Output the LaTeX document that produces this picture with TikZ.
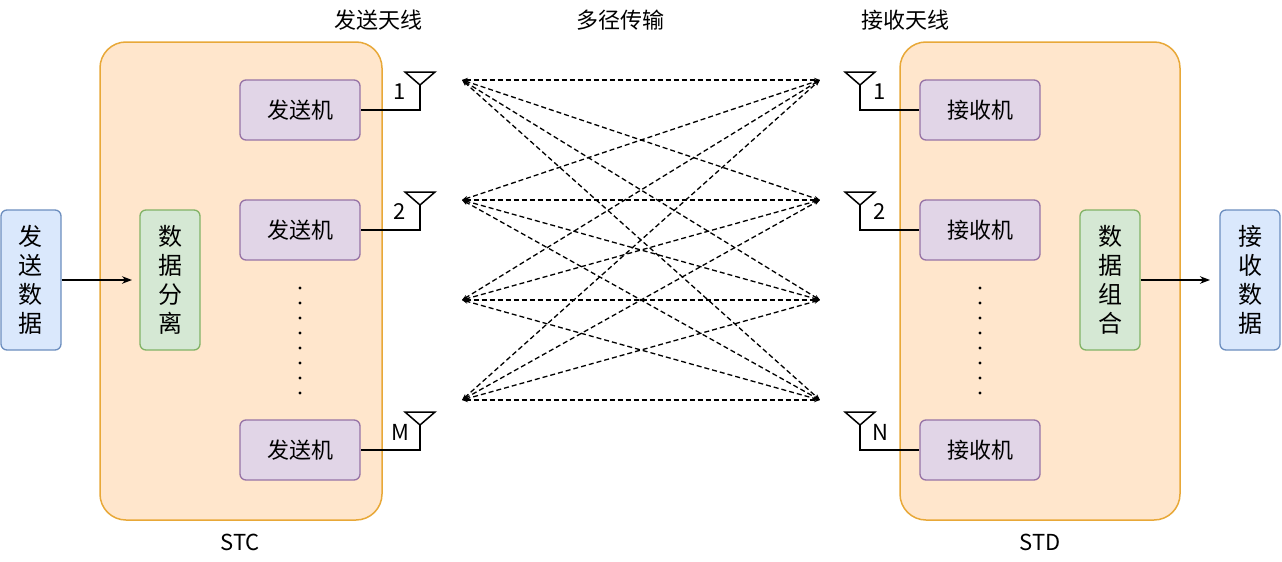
\documentclass[tikz,border=0pt]{standalone}
\usepackage{fontspec}
\setmainfont{Noto Sans CJK SC}
\usetikzlibrary{arrows.meta}
\definecolor{bF}{HTML}{DAE8FC}\definecolor{bS}{HTML}{6C8EBF}
\definecolor{gF}{HTML}{D5E8D4}\definecolor{gS}{HTML}{82B366}
\definecolor{pF}{HTML}{E1D5E7}\definecolor{pS}{HTML}{9673A6}
\definecolor{oF}{HTML}{FFE6CC}\definecolor{oS}{HTML}{E8A838}
\begin{document}
\begin{tikzpicture}[x=1pt,y=-1pt,font=\fontsize{22}{28}\selectfont,
 box/.style={draw,rounded corners=6pt,line width=1.3pt,inner sep=0},
 vbox/.style={box,minimum width=60pt,minimum height=140pt,align=center,font=\fontsize{24}{29}\selectfont},
 cont/.style={draw=oS,fill=oF,rounded corners=26pt,line width=1.5pt},
 ant/.style={line width=1.5pt},
 mp/.style={dash pattern=on 5pt off 3pt,line width=1.3pt,{Stealth[length=6pt]}-{Stealth[length=6pt]}}]
\useasboundingbox (0,0) rectangle (1282,562);
\fill[white] (0,0) rectangle (1282,562);
\draw[cont] (100,42) rectangle (382,520);
\draw[cont] (900,42) rectangle (1180,520);
\node[vbox,fill=bF,draw=bS] (in) at (31,280) {发\\送\\数\\据};
\node[vbox,fill=gF,draw=gS] (split) at (170,280) {数\\据\\分\\离};
\node[vbox,fill=gF,draw=gS] (comb) at (1110,280) {数\\据\\组\\合};
\node[vbox,fill=bF,draw=bS] (out) at (1250,280) {接\\收\\数\\据};
\draw[-{Stealth[length=10pt]},line width=1.5pt] (in) -- (132,280) coordinate (se);
\draw[-{Stealth[length=10pt]},line width=1.5pt] (comb) -- (1210,280) coordinate (oe);
\foreach \n/\y in {t1/110,t2/230,tm/450}{
 \node[box,fill=pF,draw=pS,minimum width=120pt,minimum height=60pt] (\n) at (300,\y) {发送机};}
\foreach \n/\y in {r1/110,r2/230,rn/450}{
 \node[box,fill=pF,draw=pS,minimum width=120pt,minimum height=60pt] (\n) at (980,\y) {接收机};}
\foreach \yy in {288,303,...,398}{\fill (300,\yy) circle (1.6pt); \fill (980,\yy) circle (1.6pt);}
\foreach \x/\y/\l/\lx/\b in {420/110/1/400/t1,420/230/2/400/t2,420/450/M/400/tm,860/110/1/880/r1,860/230/2/880/r2,860/450/N/880/rn}{
 \draw[ant] (\x-15,\y-38) -- (\x+15,\y-38) -- (\x,\y-25) -- cycle;
 \draw[ant] (\x,\y-25) |- (\b);
 \node at (\lx,\y-18) {\l};
}
\foreach \a in {80,200,300,400}{\coordinate (L\a) at (462,\a);\coordinate (R\a) at (820,\a);}
\foreach \a in {80,200,300,400}{\foreach \b in {80,200,300,400}{\draw[mp] (L\a) -- (R\b);}}
\node at (378,20) {发送天线};
\node at (620,20) {多径传输};
\node at (905,20) {接收天线};
\node at (240,542) {STC};
\node at (1040,542) {STD};
\end{tikzpicture}
\end{document}
